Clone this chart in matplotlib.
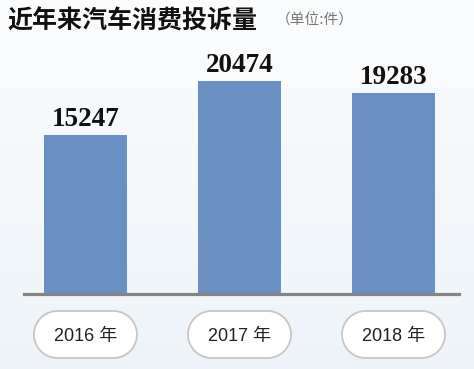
import numpy as np
import matplotlib.pyplot as plt
from matplotlib.patches import Polygon

# Datos del gráfico
anios = ["2016 年", "2017 年", "2018 年"]
quejas = [15247, 20474, 19283]
titulo = "近年来汽车消费投诉量"
unidad = "（单位:件）"

W, H = 474, 369
fig = plt.figure(figsize=(W / 100, H / 100), dpi=100)

# Fondo con un degradado suave (blanco arriba, azul claro abajo)
fondo = fig.add_axes([0, 0, 1, 1], zorder=0)
grad = np.linspace(0, 1, 256).reshape(-1, 1)
c_top = np.array([0.985, 0.99, 0.995])
c_bot = np.array([0.93, 0.955, 0.975])
img = c_top + grad[..., None] * (c_bot - c_top)
fondo.imshow(img, aspect="auto", extent=[0, W, H, 0])
fondo.set_xlim(0, W)
fondo.set_ylim(H, 0)
fondo.axis("off")

# Ejes de las barras (en píxeles: x 24..459, y 40..294)
ax = fig.add_axes([24 / W, (H - 294) / H, 435 / W, 254 / H], zorder=1)
ax.patch.set_alpha(0)
x = np.arange(len(quejas))
ax.bar(x, quejas, width=0.539, color="#6a8fc2", zorder=2)
ax.set_xlim(-0.399, 2.425)
ax.set_ylim(0, 24400)
for s in ["top", "right", "left"]:
    ax.spines[s].set_visible(False)
ax.spines["bottom"].set_color("#858585")
ax.spines["bottom"].set_linewidth(2.3)
ax.spines["bottom"].set_zorder(3)
ax.set_xticks([])
ax.set_yticks([])

for xi, v in zip(x, quejas):
    ax.annotate(f"{v}", (xi, v), xytext=(0, 6.5), textcoords="offset points",
                ha="center", va="baseline", fontsize=19.5, fontweight="bold",
                family=["Liberation Serif"], color="#111111")

# Capa superior en píxeles para el título y las etiquetas tipo "píldora"
capa = fig.add_axes([0, 0, 1, 1], zorder=4)
capa.set_xlim(0, W)
capa.set_ylim(H, 0)
capa.axis("off")

capa.text(7, 21, titulo, fontsize=18, fontweight="bold", va="center", ha="left",
          family=["Noto Sans CJK SC"], color="#111111")
capa.text(276, 21, unidad, fontsize=10.6, va="center", ha="left",
          family=["Noto Sans CJK SC", "DejaVu Sans"], color="#777777")

# Forma de píldora: dos semicírculos unidos
def pildora(cx, cy, ancho, alto):
    r = alto / 2
    a1 = np.linspace(-np.pi / 2, np.pi / 2, 40)
    a2 = np.linspace(np.pi / 2, 3 * np.pi / 2, 40)
    der = np.column_stack([cx + ancho / 2 - r + r * np.cos(a1), cy + r * np.sin(a1)])
    izq = np.column_stack([cx - ancho / 2 + r + r * np.cos(a2), cy + r * np.sin(a2)])
    return np.vstack([der, izq])

fig.canvas.draw()
for xi, etiqueta in zip(x, anios):
    cx = ax.transData.transform((xi, 0))[0]
    cy = 334.5
    capa.add_patch(Polygon(pildora(cx, cy, 103, 47), closed=True,
                           facecolor="white", edgecolor="#c9c5c5", linewidth=1.3))
    capa.text(cx, cy + 2, etiqueta, fontsize=13, ha="center", va="center",
              family=["Liberation Sans", "Noto Sans CJK SC"], color="#222222")

fig.savefig("out.png", dpi=100)
